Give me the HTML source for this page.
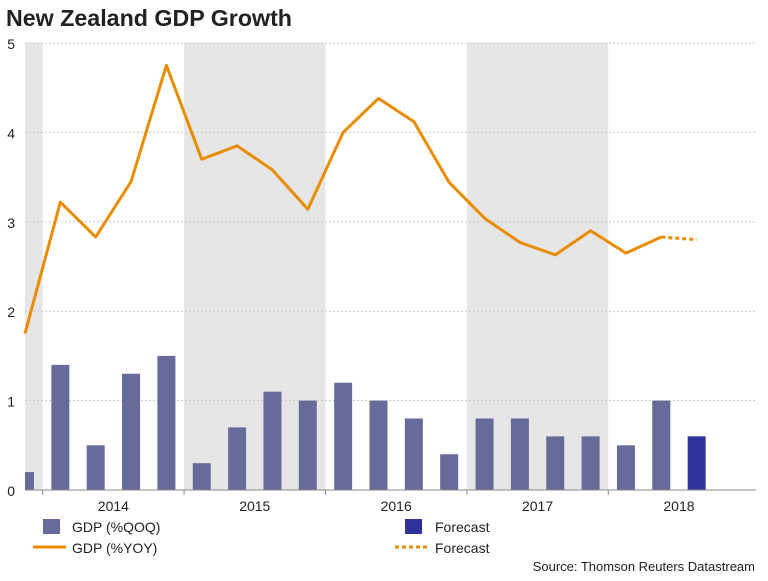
<!DOCTYPE html>
<html><head><meta charset="utf-8"><style>
body{margin:0;width:768px;height:576px;background:#fff;overflow:hidden;font-family:"Liberation Sans",Arial,sans-serif;}
</style></head><body>
<svg id="chart" width="768" height="576" xmlns="http://www.w3.org/2000/svg" font-family="Liberation Sans, Arial, sans-serif">
<text x="6" y="26" font-size="23" font-weight="bold" fill="#222" textLength="286" lengthAdjust="spacingAndGlyphs">New Zealand GDP Growth</text>
<g id="bands"></g><g id="grid"></g><g id="bars"></g><g id="lines"></g><g id="axes"></g>
<g font-size="14" fill="#222">
<rect x="43" y="519" width="17" height="15" fill="#676b9a"/>
<text x="72" y="532">GDP (%QOQ)</text>
<line x1="33" y1="547" x2="66" y2="547" stroke="#ea8c00" stroke-width="3"/>
<text x="72" y="553">GDP (%YOY)</text>
<rect x="405" y="519" width="17" height="15" fill="#31319a"/>
<text x="435" y="532">Forecast</text>
<line x1="395" y1="547" x2="430" y2="547" stroke="#ea8c00" stroke-width="3" stroke-dasharray="4,3"/>
<text x="435" y="553">Forecast</text>
</g>
<text x="755" y="571" font-size="13" text-anchor="end" fill="#222">Source: Thomson Reuters Datastream</text>
</svg>
<script>
const qoq = [0.2,1.4,0.5,1.3,1.5,0.3,0.7,1.1,1.0,1.2,1.0,0.8,0.4,0.8,0.8,0.6,0.6,0.5,1.0];
const qoqForecast = [0.6];
const yoy = [1.75,3.22,2.83,3.45,4.75,3.7,3.85,3.58,3.14,4.0,4.38,4.12,3.44,3.04,2.77,2.63,2.9,2.65,2.83];
const yoyForecast = [2.8];
const years = ["2014","2015","2016","2017","2018"];
const yTicks = [0,1,2,3,4,5];
const NS="http://www.w3.org/2000/svg";
const X0=25,X1=756,Q=35.35,Y0=490,YU=89.4;
const xq=i=>X0+Q*i, y=v=>Y0-v*YU;
function mk(p,t,a){const e=document.createElementNS(NS,t);for(const k in a)e.setAttribute(k,a[k]);document.getElementById(p).appendChild(e);return e;}
const yb=k=>xq(0.5+4*k);
[[X0,yb(0)],[yb(1),yb(2)],[yb(3),yb(4)]].forEach((b,i)=>{
 const r=mk('bands','rect',{x:b[0],y:y(5),width:b[1]-b[0],height:Y0-y(5),fill:'#e6e6e6'});
 
 
});
yTicks.forEach(t=>{
 if(t>0){const l=mk('grid','line',{x1:X0,x2:X1,y1:y(t),y2:y(t),stroke:'#c8c8c8','stroke-dasharray':'2,2'});
 
 }
 const tx=mk('axes','text',{x:15,y:y(t)+6,'font-size':14,'text-anchor':'end',fill:'#222'});tx.textContent=t;
 
 
});
mk('bands','clipPath',{id:'clip'}).appendChild(document.createElementNS(NS,'rect'));
const cr=document.querySelector('#clip rect');cr.setAttribute('x',X0);cr.setAttribute('y',0);cr.setAttribute('width',X1-X0);cr.setAttribute('height',576);
document.getElementById('bars').setAttribute('clip-path','url(#clip)');
qoq.forEach((v,i)=>{
 const b=mk('bars','rect',{x:xq(i)-9,y:y(v),width:18,height:Y0-y(v),fill:'#676b9a'});
 
 
});
qoqForecast.forEach((v,j)=>{const i=qoq.length+j;
 const b=mk('bars','rect',{x:xq(i)-9,y:y(v),width:18,height:Y0-y(v),fill:'#31319a'});
 
 
});
const pl=mk('lines','polyline',{points:yoy.map((v,i)=>xq(i)+','+y(v)).join(' '),fill:'none',stroke:'#ea8c00','stroke-width':3,'stroke-linejoin':'round'});


const n=yoy.length-1;
const fl=mk('lines','polyline',{points:[xq(n)+','+y(yoy[n])].concat(yoyForecast.map((v,j)=>xq(n+1+j)+','+y(v))).join(' '),fill:'none',stroke:'#ea8c00','stroke-width':3,'stroke-dasharray':'4,3'});


const ax=mk('axes','line',{x1:X0,x2:X1,y1:Y0,y2:Y0,stroke:'#888','stroke-width':1});


years.forEach((yr,k)=>{
 const t=mk('axes','line',{x1:yb(k),x2:yb(k),y1:Y0,y2:Y0+5,stroke:'#888'});
 
 
 const tx=mk('axes','text',{x:(yb(k)+yb(k+1))/2,y:511,'font-size':14,'text-anchor':'middle',fill:'#222'});tx.textContent=yr;
 
 
});
</script>
</body></html>
